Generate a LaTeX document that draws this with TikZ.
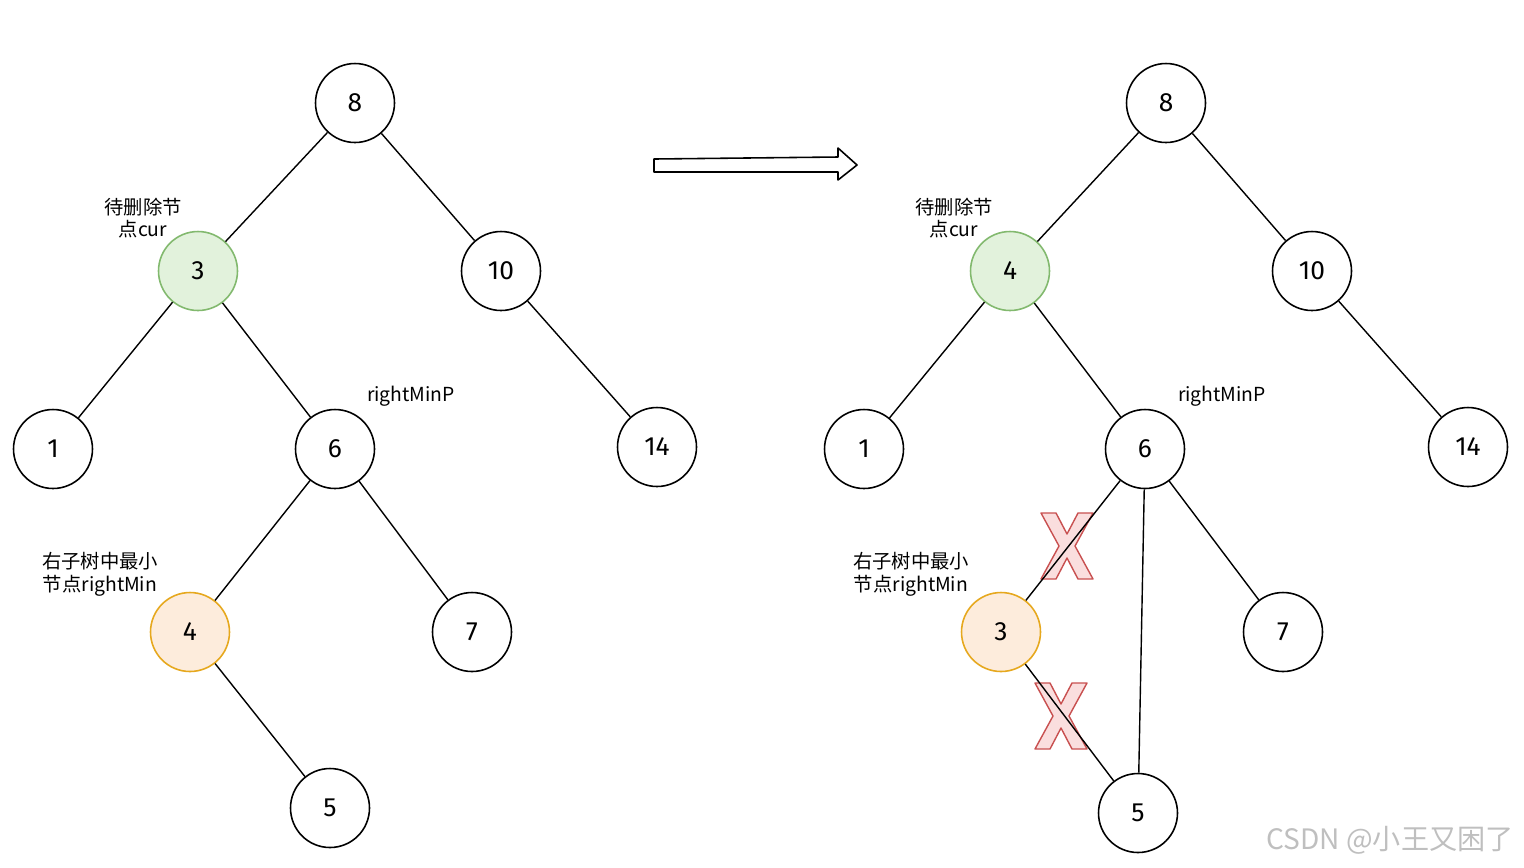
\documentclass[tikz,border=0pt]{standalone}
\usepackage{fontspec}
\usepackage{tikz}
\usetikzlibrary{arrows.meta}
\setmainfont{Fira Sans}
\newfontfamily\cjk{Noto Sans CJK SC}
\definecolor{curgreen}{RGB}{130,185,110}
\definecolor{curfill}{RGB}{226,242,220}
\definecolor{mingold}{RGB}{230,168,30}
\definecolor{minfill}{RGB}{253,236,220}
\definecolor{crossred}{RGB}{200,80,80}
\definecolor{crossfill}{RGB}{250,222,222}

\begin{document}
\begin{tikzpicture}[x={(0.02cm,0)}, y={(0,-0.02cm)},
 every node/.style={align=center},
 keynode/.style={circle, draw=black, line width=0.9pt, minimum size=1.58cm, inner sep=0pt, font=\fontsize{15}{15}\selectfont},
 curnode/.style={keynode, draw=curgreen, fill=curfill},
 minnode/.style={keynode, draw=mingold, fill=minfill},
 edge/.style={draw=black, line width=0.8pt},
 note/.style={font=\cjk\fontsize{11}{13}\selectfont, inner sep=0pt},
 crossmark/.style={draw=crossred, fill=crossfill, line width=0.8pt, line join=round}]
\useasboundingbox (0,0) rectangle (1524,867);
% before
\node[keynode] (a8) at (355,103) {8};
\node[curnode] (a3) at (198,271) {3};
\node[keynode] (a10) at (501,271) {10};
\node[keynode] (a1) at (53,449) {1};
\node[keynode] (a6) at (335,449) {6};
\node[keynode] (a14) at (657,447) {14};
\node[minnode] (a4) at (190,632) {4};
\node[keynode] (a7) at (472,632) {7};
\node[keynode] (a5) at (330,808) {5};
\draw[edge] (a8)--(a3);
\draw[edge] (a8)--(a10);
\draw[edge] (a3)--(a1);
\draw[edge] (a3)--(a6);
\draw[edge] (a10)--(a14);
\draw[edge] (a6)--(a4);
\draw[edge] (a6)--(a7);
\draw[edge] (a4)--(a5);
\node[note] (acur) at (143,218) {待删除节\\点cur};
\node[note] (aminp) at (411,396) {rightMinP};
\node[note] (amin) at (100,574) {右子树中最小\\节点rightMin};
% arrow
\node[inner sep=0pt] (from) at (654,165) {};
\node[inner sep=0pt] (to) at (857,165) {};
\draw[line width=0.9pt, line join=round] (from.center) ++(0,-6) -- ++(184,-2) -- ++(0,-9) -- (to.center) -- ++(-19,15) -- ++(0,-8) -- ++(-184,0) -- cycle;
% crosses
\foreach \cx/\cy in {1067/546, 1061/716} {
  \draw[crossmark] (\cx,\cy) ++(-26,-33) -- ++(15,0) -- ++(11,21) -- ++(11,-21) -- ++(15,0) -- ++(-18,33) -- ++(18,33) -- ++(-15,0) -- ++(-11,-21) -- ++(-11,21) -- ++(-15,0) -- ++(18,-33) -- cycle;
}
% after
\node[keynode] (b8) at (1166,103) {8};
\node[curnode] (b4) at (1010,271) {4};
\node[keynode] (b10) at (1312,271) {10};
\node[keynode] (b1) at (864,449) {1};
\node[keynode] (b6) at (1145,449) {6};
\node[keynode] (b14) at (1468,447) {14};
\node[minnode] (b3) at (1001,632) {3};
\node[keynode] (b7) at (1283,632) {7};
\node[keynode] (b5) at (1138,813) {5};
\draw[edge] (b8)--(b4);
\draw[edge] (b8)--(b10);
\draw[edge] (b4)--(b1);
\draw[edge] (b4)--(b6);
\draw[edge] (b10)--(b14);
\draw[edge] (b6)--(b3);
\draw[edge] (b6)--(b7);
\draw[edge] (b6)--(b5);
\draw[edge] (b3)--(b5);
\node[note] (bcur) at (954,218) {待删除节\\点cur};
\node[note] (bminp) at (1222,396) {rightMinP};
\node[note] (bmin) at (911,574) {右子树中最小\\节点rightMin};
\node[font=\cjk\fontsize{16}{16}\selectfont, text=black!25, inner sep=0pt] (mark) at (1390,840) {CSDN @小王又困了};
\end{tikzpicture}
\end{document}
